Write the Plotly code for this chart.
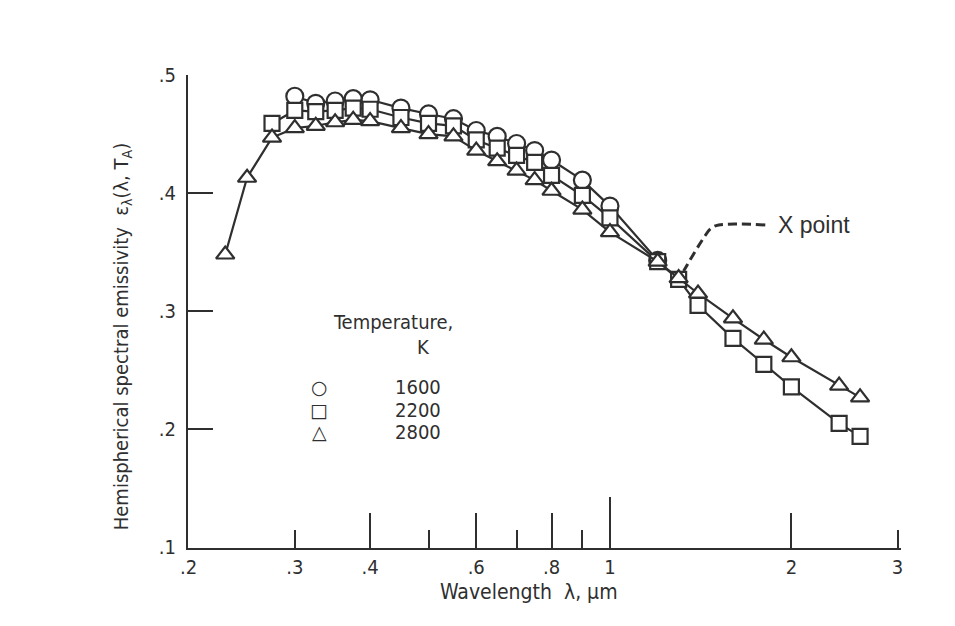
import numpy as np
import plotly.graph_objects as go

# ---------------- data ----------------
wl_1600 = [0.30, 0.325, 0.35, 0.375, 0.40, 0.45, 0.50, 0.55, 0.60, 0.65, 0.70, 0.75, 0.80, 0.90, 1.0, 1.2]
em_1600 = [0.482, 0.476, 0.478, 0.480, 0.479, 0.472, 0.467, 0.463, 0.453, 0.448, 0.442, 0.436, 0.428, 0.411, 0.389, 0.343]

wl_2200 = [0.275, 0.30, 0.325, 0.35, 0.375, 0.40, 0.45, 0.50, 0.55, 0.60, 0.65, 0.70, 0.75, 0.80, 0.90, 1.0,
           1.2, 1.3, 1.4, 1.6, 1.8, 2.0, 2.4, 2.6]
em_2200 = [0.459, 0.470, 0.469, 0.470, 0.472, 0.471, 0.464, 0.459, 0.457, 0.445, 0.438, 0.432, 0.426, 0.415,
           0.398, 0.379, 0.342, 0.327, 0.305, 0.277, 0.255, 0.236, 0.205, 0.194]

wl_2800 = [0.23, 0.25, 0.275, 0.30, 0.325, 0.35, 0.375, 0.40, 0.45, 0.50, 0.55, 0.60, 0.65, 0.70, 0.75, 0.80,
           0.90, 1.0, 1.2, 1.3, 1.4, 1.6, 1.8, 2.0, 2.4, 2.6]
em_2800 = [0.348, 0.413, 0.447, 0.455, 0.457, 0.460, 0.462, 0.461, 0.455, 0.450, 0.448, 0.436, 0.427, 0.419,
           0.411, 0.402, 0.386, 0.367, 0.342, 0.328, 0.315, 0.294, 0.276, 0.261, 0.237, 0.227]

temperatures = ["1600", "2200", "2800"]
symbols_txt = ["\u25cb", "\u25a1", "\u25b3"]

x_label_vals = [0.2, 0.3, 0.4, 0.6, 0.8, 1, 2, 3]
x_label_text = [".2", ".3", ".4", ".6", ".8", "1", "2", "3"]
x_minor_vals = [0.5, 0.7, 0.9]
x_mid_vals = [0.4, 0.6, 0.8, 2]
x_long_vals = [1]
x_end_vals = [3]
y_vals = [0.1, 0.2, 0.3, 0.4, 0.5]
y_text = [".1", ".2", ".3", ".4", ".5"]

# leader line for the "X point" label (wavelength, emissivity)
leader_x = [1.81, 1.515, 1.47, 1.43, 1.325]
leader_y = [0.373, 0.373, 0.370, 0.362, 0.334]

INK = "#2f2f2f"
FONT = "Liberation Sans Narrow, DejaVu Sans Condensed, Arial Narrow, Liberation Sans, sans-serif"

fig = go.Figure()

series = [
    (wl_1600, em_1600, "circle"),
    (wl_2200, em_2200, "square"),
    (wl_2800, em_2800, "triangle-up"),
]
sizes = {"circle": 17, "square": 15, "triangle-up": 16}
for (wx, wy, sym), t in zip(series, temperatures):
    fig.add_trace(go.Scatter(
        x=wx, y=wy, mode="lines+markers", name=t + " K",
        line=dict(color=INK, width=2.2),
        marker=dict(symbol=sym, size=sizes[sym], color="white",
                    line=dict(color=INK, width=2.2)),
        showlegend=False, hoverinfo="skip",
    ))

fig.add_trace(go.Scatter(
    x=leader_x, y=leader_y, mode="lines", line=dict(color=INK, width=3, dash="9px,5px", shape="spline"),
    showlegend=False, hoverinfo="skip",
))

xrange = [np.log10(0.1995), np.log10(3.04)]


def tick_axis(vals, length):
    return dict(
        type="log", range=xrange, overlaying="x", anchor="y", side="bottom",
        showgrid=False, zeroline=False, showline=False, showticklabels=False,
        ticks="inside", ticklen=length, tickwidth=2, tickcolor=INK, tickvals=vals,
    )


fig.update_layout(
    width=955, height=626,
    margin=dict(l=188, r=54, t=75, b=78),
    paper_bgcolor="white", plot_bgcolor="white",
    font=dict(family=FONT, color=INK, size=18),
    xaxis=dict(
        type="log", range=xrange, showgrid=False, zeroline=False,
        showline=True, linecolor=INK, linewidth=2,
        ticks="inside", ticklen=18, tickwidth=2, tickcolor=INK,
        tickvals=x_label_vals, ticktext=x_label_text,
        tickfont=dict(size=20, family=FONT, color=INK),
        minor=dict(tickvals=x_minor_vals, ticks="inside", ticklen=18, tickwidth=2, tickcolor=INK, showgrid=False),
    ),
    xaxis2=tick_axis(x_mid_vals, 35),
    xaxis3=tick_axis(x_long_vals, 51),
    xaxis4=tick_axis(x_end_vals, 18),
    yaxis=dict(
        range=[0.0995, 0.5], showgrid=False, zeroline=False,
        showline=True, linecolor=INK, linewidth=2,
        ticks="inside", ticklen=25, tickwidth=2, tickcolor=INK,
        tickvals=y_vals, ticktext=y_text,
        tickfont=dict(size=20, family=FONT, color=INK),
        ticklabelstandoff=6,
    ),
)

# dummy invisible traces so the extra tick axes are drawn
for ax in ["x2", "x3", "x4"]:
    fig.add_trace(go.Scatter(x=wl_2800[:1], y=em_2800[:1], xaxis=ax, yaxis="y", mode="markers",
                             marker=dict(opacity=0), showlegend=False, hoverinfo="skip"))

# axis titles
fig.add_annotation(x=-0.093, y=0.447, xref="paper", yref="paper", textangle=-90,
                   text="Hemispherical spectral emissivity  \u03b5<sub>\u03bb</sub>(\u03bb, T<sub>A</sub>)",
                   showarrow=False, xanchor="center", yanchor="middle",
                   font=dict(size=20, family=FONT, color=INK))
fig.add_annotation(x=0.478, y=-0.093, xref="paper", yref="paper",
                   text="Wavelength  \u03bb, \u03bcm", showarrow=False, xanchor="center", yanchor="middle",
                   font=dict(size=21, family=FONT, color=INK))

# "X point" label
fig.add_annotation(x=np.log10(leader_x[0]), y=leader_y[0], xref="x", yref="y",
                   text="X point", showarrow=False, xanchor="left", yanchor="middle", xshift=11,
                   font=dict(size=23, family="Liberation Sans, Arial, sans-serif", color=INK))

# in-plot key
fig.add_annotation(x=0.288, y=0.478, xref="paper", yref="paper", text="Temperature,",
                   showarrow=False, xanchor="center", yanchor="middle", font=dict(size=20))
fig.add_annotation(x=0.330, y=0.425, xref="paper", yref="paper", text="K",
                   showarrow=False, xanchor="center", yanchor="middle", font=dict(size=20))
key_y = [0.340, 0.292, 0.245]
for t, s, ky in zip(temperatures, symbols_txt, key_y):
    fig.add_annotation(x=0.184, y=ky, xref="paper", yref="paper", text=s, showarrow=False,
                       xanchor="center", yanchor="middle",
                       font=dict(size=19, family="DejaVu Sans, sans-serif", color=INK))
    fig.add_annotation(x=0.323, y=ky, xref="paper", yref="paper", text=t, showarrow=False,
                       xanchor="center", yanchor="middle", font=dict(size=20))

fig.write_html("out.html")
